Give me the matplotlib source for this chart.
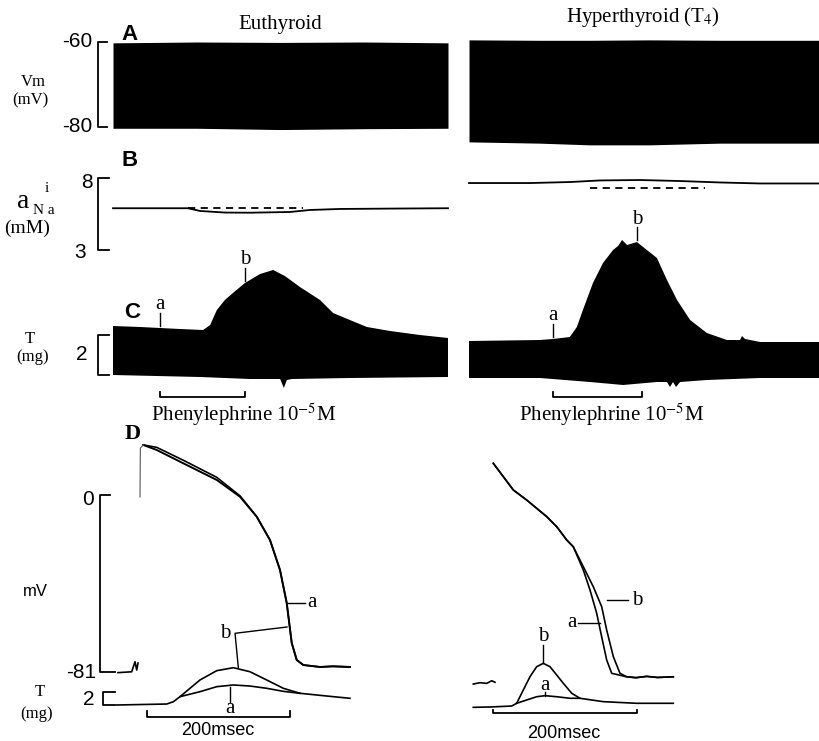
import matplotlib
matplotlib.use('Agg')
import matplotlib.pyplot as plt

plt.rcParams['mathtext.fontset'] = 'stix'
SERIF = 'Liberation Serif'
SANS = 'Liberation Sans'
W, H = 819, 741

# ---------------- values ----------------
# A: Vm chart record, envelope of the beats (mV); time in min
a_eu_t = [0, 2.5, 5, 7.5, 10]
a_eu_top = [-60.2, -60.0, -60.1, -60.0, -60.2]
a_eu_bot = [-80.3, -80.3, -80.6, -80.4, -80.3]
a_hy_t = [0, 2.1, 3.6, 5.4, 7.5, 10.45]
a_hy_top = [-59.5, -59.6, -59.6, -59.5, -59.6, -59.6]
a_hy_bot = [-83.5, -83.8, -84.2, -84.2, -83.8, -83.8]

# B: intracellular Na activity (mM)
b_eu_t = [0, 2.24, 2.6, 3.34, 4.09, 5.28, 5.88, 6.78, 8.57, 10.0]
b_eu_na = [5.90, 5.90, 5.71, 5.60, 5.59, 5.64, 5.78, 5.85, 5.88, 5.90]
b_eu_ctrl = [2.24, 5.67, 5.92]     # dashed control level: from, to, mM
b_hy_t = [0, 1.82, 3.01, 3.91, 5.10, 6.30, 7.49, 8.69, 10.45]
b_hy_na = [7.65, 7.65, 7.72, 7.83, 7.86, 7.79, 7.69, 7.62, 7.62]
b_hy_ctrl = [3.61, 7.04, 7.31]

# C: tension chart record, envelope (mg)
c_eu_t_top = [0, 0.81, 1.40, 2.00, 2.69, 2.90, 3.10, 3.34, 3.58, 3.94, 4.39,
              4.78, 5.13, 5.58, 6.18, 6.57, 7.07, 7.58, 8.27, 9.16, 10.0]
c_eu_top = [2.45, 2.40, 2.35, 2.30, 2.25, 2.50, 3.25, 3.75, 4.10, 4.60, 5.05,
            5.25, 4.95, 4.40, 3.75, 3.10, 2.75, 2.40, 2.20, 2.00, 1.85]
c_eu_t_bot = [0, 2.60, 4.09, 4.99, 5.10, 5.19, 5.34, 7.07, 10.0]
c_eu_bot = [0, -0.10, -0.20, -0.20, -0.65, -0.25, -0.20, -0.15, -0.10]
c_hy_t_top = [0, 2.12, 2.51, 3.01, 3.22, 3.40, 3.70, 4.00, 4.30, 4.45, 4.57, 4.72,
              5.01, 5.31, 5.61, 5.91, 6.21, 6.60, 7.10, 7.70, 8.09, 8.15, 8.24,
              8.69, 10.45]
c_hy_top = [1.70, 1.75, 1.80, 1.90, 2.40, 3.25, 4.60, 5.60, 6.25, 6.45, 6.75, 6.50,
            6.65, 6.25, 5.85, 4.75, 3.75, 2.75, 2.10, 1.75, 1.75, 1.95, 1.80,
            1.65, 1.65]
c_hy_t_bot = [0, 2.12, 3.61, 4.60, 5.61, 5.91, 6.00, 6.09, 6.18, 6.30, 7.10, 8.69, 10.45]
c_hy_bot = [-0.15, -0.15, -0.35, -0.50, -0.35, -0.35, -0.60, -0.35, -0.60, -0.35,
            -0.25, -0.15, -0.15]
phe_eu = [1.40, 3.94]   # phenylephrine application (min)
phe_hy = [2.51, 5.16]
phe_txt = [3.91, 4.27]  # where the label sits
mark_eu = [1.40, 3.94]  # times of sweeps a and b
mark_hy = [2.51, 5.01]

# D: action potentials (mV) and twitches (mg); time in ms
d_eu_t = [4.6, 23.4, 60.6, 107.3, 139.9, 163.2, 181.8, 195.8, 205.2, 212.2, 219.2,
          228.4, 251.7, 270, 293.7]
d_eu_va = [22.9, 20.6, 14.5, 6.9, -0.8, -9.9, -20.6, -34.3, -49.4, -67.7, -75.5,
           -77.8, -78.7, -78.4, -78.7]
d_eu_vb = [22.9, 21.8, 15.9, 8.1, -0.4, -9.9, -20.6, -34.3, -49.4, -67.7, -75.5,
           -77.8, -78.7, -78.4, -78.7]
d_eu_up_t = [0, 0.5, 4.6]
d_eu_up_v = [-0.9, 21.5, 22.9]
d_eu_stim_t = [-30.8, -11.6, -7.0, -4.6, -2.8]
d_eu_stim_v = [-81.3, -80.9, -76.3, -80.1, -76.9]
d_eu_tb = [-32.6, 37.3, 46.6, 55.9, 83.9, 107.3, 130.5, 153.8, 177.2, 200.4, 223.8,
           270.3, 293.7]
d_eu_fb = [0, 0.15, 0.5, 1.28, 3.85, 5.28, 5.74, 5.12, 3.85, 2.57, 1.80, 1.28, 1.03]
d_eu_ta = [55.9, 83.9, 107.3, 130.5, 153.8, 177.2, 200.4, 223.8]
d_eu_fa = [1.28, 2.05, 2.82, 3.08, 2.92, 2.57, 2.10, 1.80]

d_hy_ta = [0.4, 14.4, 28.4, 47.1, 61.1, 75.1, 89.1, 103.1, 112.3, 126.3, 135.7, 145.0,
           152.0, 159.0, 166.0, 187.0, 200, 215, 230, 252.2]
d_hy_va = [14.5, 8.4, 2.3, -2.3, -6.1, -9.9, -14.5, -20.6, -23.7, -34.3, -43.5, -54.1,
           -64.9, -75.5, -81.6, -83.2, -83.6, -83.0, -83.5, -83.2]
d_hy_tb = [0.4, 14.4, 28.4, 47.1, 61.1, 75.1, 89.1, 103.1, 112.3, 126.3, 140.3, 152.0,
           159.0, 168.3, 177.6, 187.0, 200, 215, 230, 252.2]
d_hy_vb = [14.5, 8.4, 2.3, -2.3, -6.1, -9.9, -14.5, -20.6, -23.7, -32.8, -42.0, -51.1,
           -61.8, -74.0, -81.6, -83.2, -83.6, -83.0, -83.5, -83.2]
d_hy_pre_t = [-27.6, -18.2, -8.8, -1.8, 2.8]
d_hy_pre_v = [-86.5, -85.9, -86.2, -85.0, -85.7]
d_hy_tfb = [-27.6, -4.2, 26.2, 33.1, 42.4, 51.7, 61.1, 70.3, 79.7, 89.1, 98.3, 110.1,
            121.7, 154.3, 201.0, 252.2]
d_hy_fb = [-0.05, 0, 0.15, 0.57, 2.62, 4.66, 6.20, 6.72, 6.20, 4.92, 3.65, 2.11,
           1.34, 0.82, 0.57, 0.57]
d_hy_tfa = [33.1, 47.1, 61.1, 72.7, 89.1, 107.7, 121.7]
d_hy_fa = [0.57, 1.08, 1.58, 1.74, 1.58, 1.34, 1.34]


fig = plt.figure(figsize=(W / 100, H / 100), dpi=100)


def panel(xref, yref):
    # full-figure axes whose scales put two reference values on given pixels
    ax = fig.add_axes([0, 0, 1, 1])
    (p0, v0), (p1, v1) = xref
    s = (v1 - v0) / (p1 - p0)
    ax.set_xlim(v0 - p0 * s, v0 + (W - p0) * s)
    (q0, w0), (q1, w1) = yref
    k = (w1 - w0) / (q1 - q0)
    ax.set_ylim(w0 + (H - q0) * k, w0 - q0 * k)
    ax.axis('off')
    return ax


def ftxt(x, y, s, **kw):
    fig.text(x / W, 1 - y / H, s, ha=kw.pop('ha', 'center'),
             va=kw.pop('va', 'center'), **kw)


LW = 1.3
kw_serif = dict(family=SERIF, fontsize=15)

# ---------- A ----------
xa_eu, xa_hy = ((113, 0), (448, 10)), ((469, 0), (804, 10))
ya = ((42, -60), (127, -80))
axA1, axA2 = panel(xa_eu, ya), panel(xa_hy, ya)
axA1.fill_between(a_eu_t, a_eu_bot, a_eu_top, color='black', lw=0)
axA2.fill_between(a_hy_t, a_hy_bot, a_hy_top, color='black', lw=0)
axA1.plot([-0.18, -0.45, -0.45, -0.18], [-60, -60, -80, -80], color='black', lw=LW)
axA1.text(-0.63, -60, '-60', ha='right', va='center', family=SANS, fontsize=15)
axA1.text(-0.63, -80, '-80', ha='right', va='center', family=SANS, fontsize=15)

# ---------- B ----------
yb = ((178, 8), (250, 3))
axB1, axB2 = panel(xa_eu, yb), panel(xa_hy, yb)
axB1.plot(b_eu_t, b_eu_na, color='black', lw=LW)
axB1.plot(b_eu_ctrl[:2], [b_eu_ctrl[2]] * 2, color='black', lw=LW, ls=(0, (4, 3)))
axB2.plot(b_hy_t, b_hy_na, color='black', lw=LW)
axB2.plot(b_hy_ctrl[:2], [b_hy_ctrl[2]] * 2, color='black', lw=LW, ls=(0, (4, 3)))
axB1.plot([-0.12, -0.45, -0.45, -0.12], [8, 8, 3, 3], color='black', lw=LW)
axB1.text(-0.6, 7.7, '8', ha='right', va='center', family=SANS, fontsize=15)
axB1.text(-0.8, 2.8, '3', ha='right', va='center', family=SANS, fontsize=15)

# ---------- C ----------
yc = ((375, 0), (335, 2))
axC1, axC2 = panel(xa_eu, yc), panel(xa_hy, yc)
axC1.fill(c_eu_t_top + c_eu_t_bot[::-1], c_eu_top + c_eu_bot[::-1], color='black', lw=0)
axC2.fill(c_hy_t_top + c_hy_t_bot[::-1], c_hy_top + c_hy_bot[::-1], color='black', lw=0)
axC1.plot([-0.12, -0.45, -0.45, -0.12], [2, 2, 0, 0], color='black', lw=LW)
axC1.text(-0.75, 1.0, '2', ha='right', va='center', family=SANS, fontsize=15)
for ax, phe, tx, mk, tops in [(axC1, phe_eu, phe_txt[0], mark_eu, (c_eu_t_top, c_eu_top)),
                              (axC2, phe_hy, phe_txt[1], mark_hy, (c_hy_t_top, c_hy_top))]:
    ax.plot([phe[0], phe[0], phe[1], phe[1]], [-0.85, -1.12, -1.12, -0.85],
            color='black', lw=LW)
    ax.text(tx, -2.0, 'Phenylephrine 10$^{\\mathrm{-5}}$M',
            ha='center', va='center', **kw_serif)
    for name, t in zip('ab', mk):
        top = min(range(len(tops[0])), key=lambda i: abs(tops[0][i] - t))
        y0 = tops[1][top] + 0.1
        ax.plot([t, t], [y0, y0 + 0.65], color='black', lw=1.0)
        ax.text(t, y0 + 1.05, name, ha='center', va='center', **kw_serif)

# ---------- D ----------
xd_eu, xd_hy = ((140, 0), (283, 200)), ((493, 0), (636, 200))
yv = ((495, 0), (672, -81))
axV1, axV2 = panel(xd_eu, yv), panel(xd_hy, yv)
axT1 = panel(xd_eu, ((705, 0), (692, 2)))
axT2 = panel(xd_hy, ((707, 0), (694, 2)))

axV1.plot(d_eu_t, d_eu_va, color='black', lw=1.4)
axV1.plot(d_eu_t, d_eu_vb, color='black', lw=1.2)
axV1.plot(d_eu_up_t, d_eu_up_v, color='#555555', lw=0.8)
axV1.plot(d_eu_stim_t, d_eu_stim_v, color='black', lw=1.2)
axV1.plot([-42, -56, -56, -35], [0, 0, -81, -81], color='black', lw=LW)
axV1.text(-65, -2, '0', ha='right', va='center', family=SANS, fontsize=15)
axV1.text(-61, -81, '-81', ha='right', va='center', family=SANS, fontsize=15)
axV1.plot([207, 230.8], [-49.4, -49.4], color='black', lw=1.0)
axV1.text(240, -49.3, 'a', ha='center', va='center', **kw_serif)
axV1.plot([205.6, 132.9, 137.5], [-60.4, -63.3, -78.9], color='black', lw=1.0)
axV1.text(118.9, -63.2, 'b', ha='center', va='center', **kw_serif)

axT1.plot(d_eu_tb, d_eu_fb, color='black', lw=1.2)
axT1.plot(d_eu_ta, d_eu_fa, color='black', lw=1.2)
axT1.plot([-35, -51.7, -51.7, -35], [2, 2, 0, 0], color='black', lw=LW)
axT1.text(-63, 0.9, '2', ha='right', va='center', family=SANS, fontsize=15)
axT1.plot([125.9, 125.9], [2.82, 0.5], color='black', lw=1.0)
axT1.text(125.9, -0.6, 'a', ha='center', va='center', **kw_serif)
axT1.plot([9.8, 9.8, 209.8, 209.8], [-0.92, -1.85, -1.85, -0.92], color='black', lw=LW)
axT1.text(109, -3.85, '200msec', ha='center', va='center', family=SANS, fontsize=13)

axV2.plot(d_hy_ta, d_hy_va, color='black', lw=1.2)
axV2.plot(d_hy_tb, d_hy_vb, color='black', lw=1.2)
axV2.plot(d_hy_pre_t, d_hy_pre_v, color='black', lw=1.2)
axV2.plot([159.0, 189.2], [-48.1, -48.1], color='black', lw=1.0)
axV2.text(201, -48.1, 'b', ha='center', va='center', **kw_serif)
axV2.plot([119.3, 149.7], [-58.4, -58.4], color='black', lw=1.0)
axV2.text(110, -58.4, 'a', ha='center', va='center', **kw_serif)

axT2.plot(d_hy_tfb, d_hy_fb, color='black', lw=1.2)
axT2.plot(d_hy_tfa, d_hy_fa, color='black', lw=1.2)
axT2.plot([70.3, 70.3], [9.54, 6.72], color='black', lw=1.0)
axT2.text(70.3, 10.8, 'b', ha='center', va='center', **kw_serif)
axT2.plot([72.7, 72.7], [2.35, 1.74], color='black', lw=1.0)
axT2.text(72.7, 3.3, 'a', ha='center', va='center', **kw_serif)
axT2.plot([0.4, 0.4, 201, 201], [-0.46, -0.97, -0.97, -0.46], color='black', lw=LW)
axT2.text(98.3, -4.0, '200msec', ha='center', va='center', family=SANS, fontsize=13)

# ---------- labels ----------
ftxt(280, 24, 'Euthyroid', **kw_serif)
ftxt(643, 17, 'Hyperthyroid (T$_{\\mathrm{4}}$)', **kw_serif)
ftxt(129, 34, 'A', family=SANS, fontsize=16, weight='bold')
ftxt(130, 161, 'B', family=SANS, fontsize=16, weight='bold')
ftxt(132, 312, 'C', family=SANS, fontsize=16, weight='bold')
ftxt(133, 434, 'D', family=SERIF, fontsize=16, weight='bold')
ftxt(33, 82, 'Vm', family=SERIF, fontsize=12)
ftxt(30, 100, '(mV)', family=SERIF, fontsize=12)
ftxt(23, 201, 'a', family=SERIF, fontsize=20)
ftxt(44, 211, 'N a', family=SERIF, fontsize=11)
ftxt(47, 188, 'i', family=SERIF, fontsize=11)
ftxt(27, 228, '(mM)', family=SERIF, fontsize=14)
ftxt(30, 339, 'T', family=SERIF, fontsize=12)
ftxt(33, 357, '(mg)', family=SERIF, fontsize=12)
ftxt(35, 591, 'mV', family=SANS, fontsize=12)
ftxt(40, 692, 'T', family=SERIF, fontsize=12)
ftxt(37, 714, '(mg)', family=SERIF, fontsize=12)

fig.savefig('out.png', dpi=100)
